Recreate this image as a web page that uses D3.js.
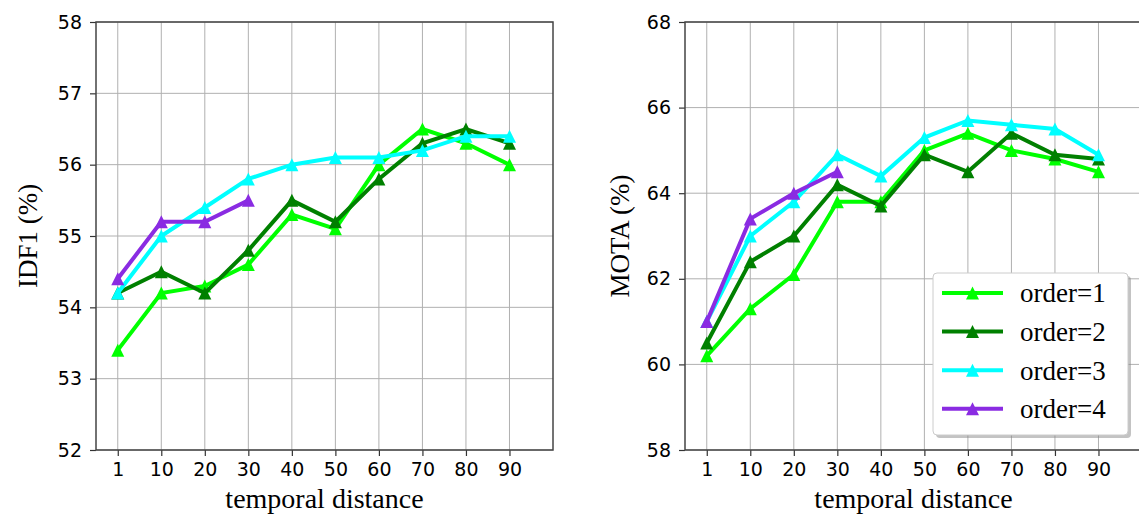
<!DOCTYPE html>
<html>
<head>
<meta charset="utf-8">
<script src="https://cdn.jsdelivr.net/npm/d3@7"></script>
<style>
html,body{margin:0;padding:0;background:#fff;}
svg{display:block;}
</style>
</head>
<body>
<svg id="chart" width="1139" height="518"></svg>
<script>
// ---- data ----
const categories = ["1","10","20","30","40","50","60","70","80","90"];
const seriesNames = ["order=1","order=2","order=3","order=4"];
const seriesColors = ["#00ff00","#008000","#00ffff","#8a2be2"];

const idf1_order1 = [53.4,54.2,54.3,54.6,55.3,55.1,56.0,56.5,56.3,56.0];
const idf1_order2 = [54.2,54.5,54.2,54.8,55.5,55.2,55.8,56.3,56.5,56.3];
const idf1_order3 = [54.2,55.0,55.4,55.8,56.0,56.1,56.1,56.2,56.4,56.4];
const idf1_order4 = [54.4,55.2,55.2,55.5];

const mota_order1 = [60.2,61.3,62.1,63.8,63.8,65.0,65.4,65.0,64.8,64.5];
const mota_order2 = [60.5,62.4,63.0,64.2,63.7,64.9,64.5,65.4,64.9,64.8];
const mota_order3 = [61.0,63.0,63.8,64.9,64.4,65.3,65.7,65.6,65.5,64.9];
const mota_order4 = [61.0,63.4,64.0,64.5];

const idf1Ticks = [52,53,54,55,56,57,58];
const motaTicks = [58,60,62,64,66,68];

const svg = d3.select("#chart");

function triPath(h){ return `M0,${-h}L${-h},${h}L${h},${h}Z`; }

function panel(opts){
  const {x0,x1,y0,y1,yDomain,yTicks,series,ylabel,ylabelX} = opts;
  const g = svg.append("g");
  const x = d3.scaleLinear().domain([-0.5,10]).range([x0,x1]);
  const y = d3.scaleLinear().domain(yDomain).range([y1,y0]);
  const idx = d3.range(categories.length);

  const clipId = "clip"+Math.round(x0);
  svg.append("clipPath").attr("id",clipId).append("rect")
    .attr("x",x0).attr("y",y0).attr("width",x1-x0).attr("height",y1-y0);

  // grid
  const grid = g.append("g");
  grid.selectAll("line.v").data(idx).join("line")
    .attr("x1",d=>x(d)).attr("x2",d=>x(d)).attr("y1",y0).attr("y2",y1)
    .attr("stroke","#b0b0b0").attr("stroke-width",1);
  grid.selectAll("line.h").data(yTicks).join("line")
    .attr("x1",x0).attr("x2",x1).attr("y1",d=>y(d)).attr("y2",d=>y(d))
    .attr("stroke","#b0b0b0").attr("stroke-width",1);

  // axes
  const xAxis = d3.axisBottom(x).tickValues(idx).tickFormat(i=>categories[i]).tickSize(6).tickPadding(7);
  const yAxis = d3.axisLeft(y).tickValues(yTicks).tickFormat(d3.format("d")).tickSize(6).tickPadding(8);
  const gx = g.append("g").attr("transform",`translate(0,${y1})`).call(xAxis);
  const gy = g.append("g").attr("transform",`translate(${x0},0)`).call(yAxis);
  [gx,gy].forEach(a=>{
    a.select(".domain").remove();
    a.selectAll(".tick line").attr("stroke","#333").attr("stroke-width",1.2);
    a.selectAll(".tick text").attr("fill","#000").style("font-family","'DejaVu Sans'").style("font-size","19px");
  });

  // spines
  g.append("rect").attr("x",x0).attr("y",y0).attr("width",x1-x0).attr("height",y1-y0)
    .attr("fill","none").attr("stroke","#444").attr("stroke-width",1.5);

  // series
  const plot = g.append("g").attr("clip-path",`url(#${clipId})`);
  const line = d3.line().x((d,i)=>x(i)).y(d=>y(d));
  series.forEach((vals,k)=>{
    const sg = plot.append("g");
    sg.append("path").attr("d",line(vals)).attr("fill","none")
      .attr("stroke",seriesColors[k]).attr("stroke-width",4).attr("stroke-linejoin","miter");
    sg.selectAll("path.m").data(vals).join("path").attr("class","m")
      .attr("d",triPath(6.5))
      .attr("transform",(d,i)=>`translate(${x(i)},${y(d)})`)
      .attr("fill",seriesColors[k]);
  });

  // labels
  g.append("text").attr("x",(x0+x1)/2).attr("y",508).attr("text-anchor","middle")
    .style("font-family","'Liberation Serif','Times New Roman',serif").style("font-size","28px")
    .attr("fill","#000").text("temporal distance");
  g.append("text").attr("transform",`translate(${ylabelX},${(y0+y1)/2}) rotate(-90)`)
    .attr("text-anchor","middle")
    .style("font-family","'Liberation Serif','Times New Roman',serif").style("font-size","27px")
    .attr("fill","#000").text(ylabel);
  return {x,y};
}

panel({x0:96,x1:553,y0:22,y1:450,yDomain:[52,58],yTicks:idf1Ticks,
  series:[idf1_order1,idf1_order2,idf1_order3,idf1_order4],ylabel:"IDF1 (%)",ylabelX:37});
panel({x0:685,x1:1142,y0:22,y1:450,yDomain:[58,68],yTicks:motaTicks,
  series:[mota_order1,mota_order2,mota_order3,mota_order4],ylabel:"MOTA (%)",ylabelX:629});

// legend
const lg = svg.append("g");
const lx=933, ly=273, lw=195, lh=162;
lg.append("rect").attr("x",lx+3).attr("y",ly+3).attr("width",lw).attr("height",lh).attr("rx",4)
  .attr("fill","#888").attr("opacity",0.5);
lg.append("rect").attr("x",lx).attr("y",ly).attr("width",lw).attr("height",lh).attr("rx",4)
  .attr("fill","#fff").attr("stroke","#ccc").attr("stroke-width",1);
seriesNames.forEach((name,k)=>{
  const cy = 293 + k*38.6;
  lg.append("line").attr("x1",942).attr("x2",1003).attr("y1",cy).attr("y2",cy)
    .attr("stroke",seriesColors[k]).attr("stroke-width",4);
  lg.append("path").attr("d",triPath(6.5)).attr("transform",`translate(972.5,${cy})`).attr("fill",seriesColors[k]);
  lg.append("text").attr("x",1020).attr("y",cy).attr("dy","0.35em")
    .style("font-family","'Liberation Serif','Times New Roman',serif").style("font-size","27px")
    .attr("fill","#000").text(name);
});
</script>
</body>
</html>
